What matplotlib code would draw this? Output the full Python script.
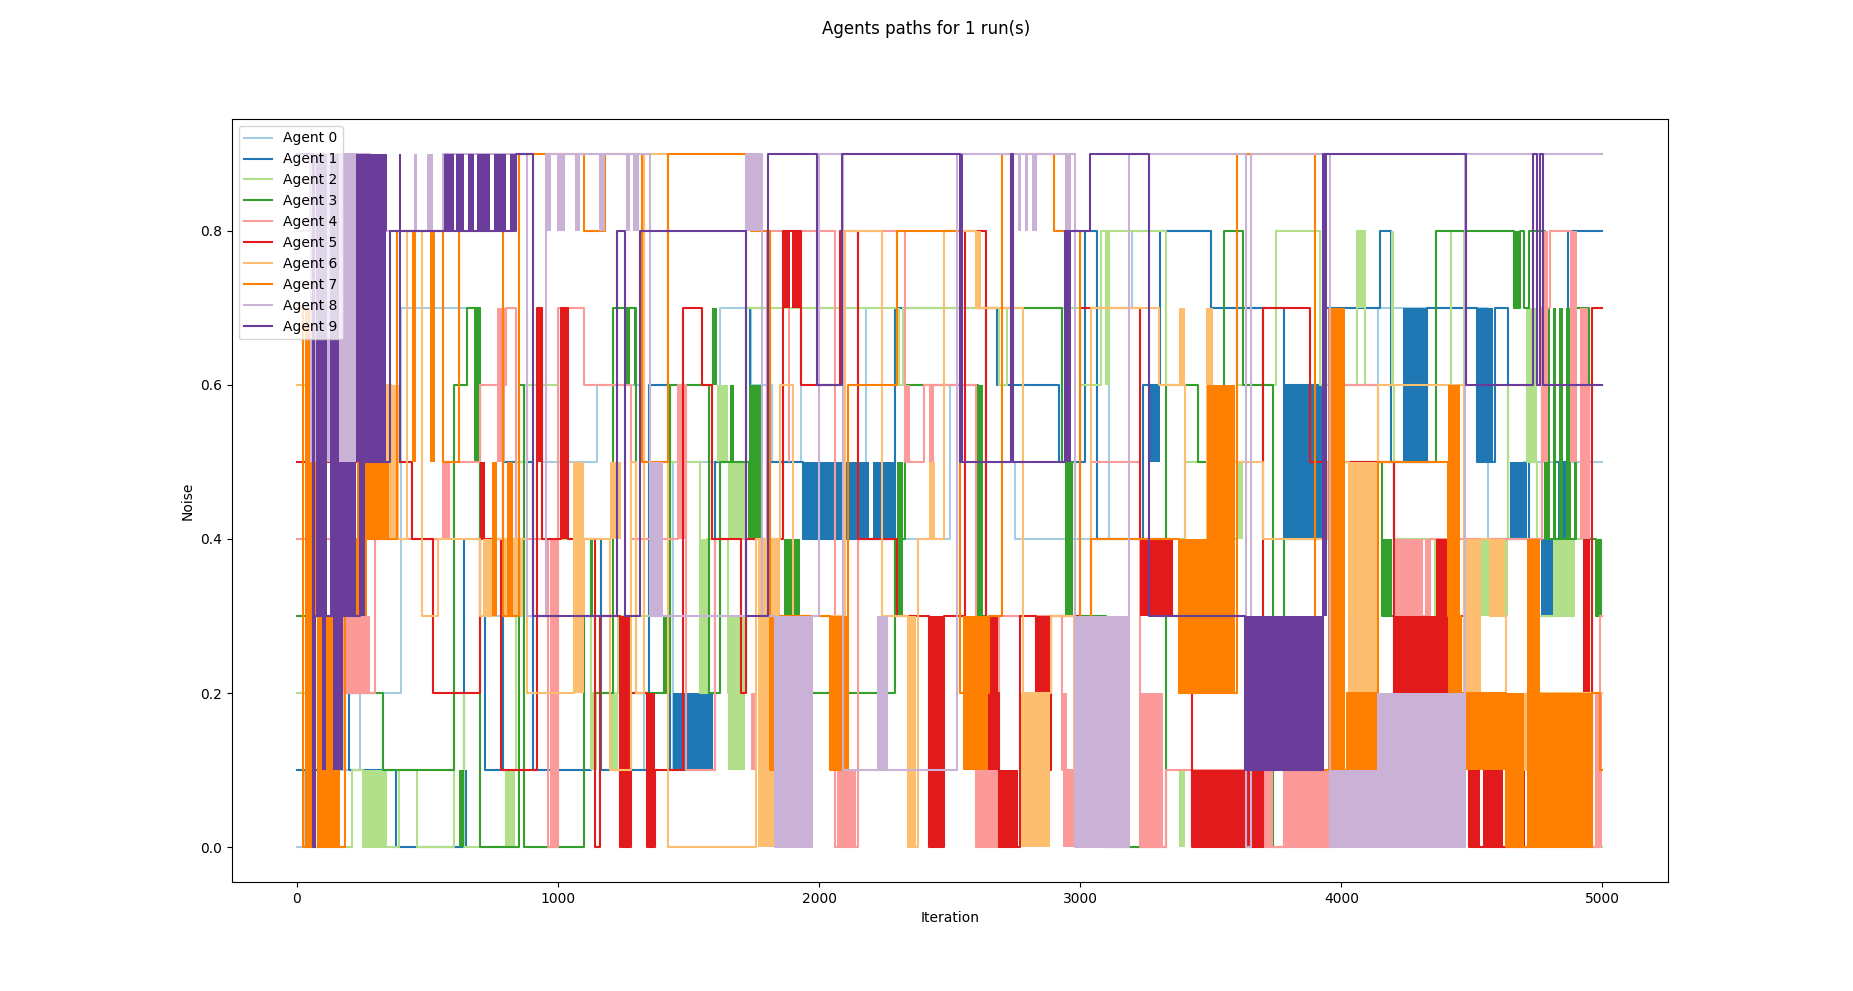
import matplotlib
matplotlib.use('Agg')
import matplotlib.pyplot as plt
import numpy as np

n_iter = 5000
agent_names = ['Agent %d' % i for i in range(10)]

# step paths: iteration where the value changes, and the new noise value
a0_x = [0, 30, 240, 400, 700, 870, 940, 1150, 1330, 1440, 1620, 1740, 1820, 1930, 2180, 2500, 2560,
        2750, 3110, 3200, 3500, 3700, 3930, 4020, 4140, 4330, 4560, 4700, 4960]
a0_y = [0.0, 0.1, 0.2, 0.7, 0.3, 0.6, 0.5, 0.6, 0.1, 0.5, 0.7, 0.6, 0.5, 0.7, 0.4, 0.6, 0.5,
        0.4, 0.7, 0.8, 0.7, 0.4, 0.6, 0.6, 0.7, 0.7, 0.4, 0.5, 0.5]
a0_bands = []

a1_x = [0, 90, 200, 380, 640, 720, 790, 905, 1125, 1165, 1350, 1430, 1600, 1735, 1800, 1940, 2290,
        2680, 2920, 3020, 3065, 3240, 3305, 3500, 3780, 3930, 4150, 4190, 4330, 4520, 4590, 4640,
        4720, 4770, 4820, 4870]
a1_y = [0.1, 0.2, 0.1, 0.0, 0.4, 0.1, 0.5, 0.1, 0.4, 0.1, 0.6, 0.1, 0.5, 0.7, 0.5, 0.4, 0.7,
        0.6, 0.5, 0.8, 0.4, 0.6, 0.8, 0.7, 0.6, 0.7, 0.8, 0.5, 0.7, 0.5, 0.7, 0.4,
        0.6, 0.3, 0.5, 0.8]
a1_bands = [(620, 650, 0.0, 0.1), (1440, 1595, 0.1, 0.2), (1940, 2190, 0.4, 0.5), (2205, 2290, 0.4, 0.5),
            (3258, 3305, 0.5, 0.6), (3778, 3931, 0.4, 0.6), (4237, 4327, 0.5, 0.7), (4521, 4582, 0.5, 0.7),
            (4646, 4710, 0.4, 0.5), (4768, 4812, 0.3, 0.4), (4830, 4865, 0.4, 0.5)]

a2_x = [0, 50, 210, 255, 390, 460, 600, 640, 800, 840, 880, 1000, 1125, 1230, 1420, 1545, 1570,
        1650, 1720, 2300, 2320, 2690, 2720, 3000, 3080, 3330, 3400, 3500, 3600, 3750, 3920, 4060,
        4090, 4200, 4360, 4420, 4470, 4530, 4640, 4710, 4750, 4890, 4960]
a2_y = [0.2, 0.0, 0.1, 0.0, 0.1, 0.0, 0.2, 0.0, 0.1, 0.5, 0.6, 0.4, 0.2, 0.3, 0.5, 0.2, 0.4,
        0.2, 0.7, 0.6, 0.7, 0.6, 0.7, 0.6, 0.8, 0.4, 0.5, 0.4, 0.6, 0.8, 0.6, 0.8,
        0.6, 0.4, 0.3, 0.8, 0.3, 0.4, 0.6, 0.5, 0.3, 0.4, 0.0]
a2_bands = [(255, 345, 0.0, 0.1), (165, 185, 0.1, 0.2), (797, 836, 0.0, 0.1), (1124, 1149, 0.1, 0.2),
            (1202, 1228, 0.1, 0.2), (1544, 1569, 0.2, 0.4), (1652, 1716, 0.1, 0.3), (1652, 1716, 0.4, 0.5),
            (1610, 1650, 0.5, 0.6), (2297, 2310, 0.6, 0.7), (3095, 3114, 0.6, 0.8), (3380, 3400, 0.0, 0.1),
            (3598, 3624, 0.4, 0.5), (4058, 4090, 0.7, 0.8), (4190, 4200, 0.6, 0.8), (4531, 4640, 0.3, 0.4),
            (4709, 4748, 0.5, 0.7), (4812, 4888, 0.3, 0.4)]

a3_x = [0, 200, 330, 600, 650, 700, 850, 870, 1100, 1140, 1210, 1300, 1430, 1580, 1620, 1730, 1790,
        1930, 2290, 2330, 2610, 2640, 2930, 2980, 3100, 3330, 3450, 3550, 3625, 3740, 3780, 3960,
        4155, 4200, 4364, 4662, 4685, 4700, 4720, 4780, 4900, 4950, 4975]
a3_y = [0.3, 0.2, 0.1, 0.6, 0.7, 0.0, 0.6, 0.0, 0.3, 0.2, 0.7, 0.2, 0.6, 0.2, 0.5, 0.4, 0.3,
        0.2, 0.4, 0.6, 0.3, 0.7, 0.5, 0.3, 0.0, 0.6, 0.5, 0.8, 0.6, 0.0, 0.4, 0.5,
        0.3, 0.5, 0.8, 0.7, 0.8, 0.7, 0.8, 0.4, 0.7, 0.4, 0.3]
a3_bands = [(620, 640, 0.0, 0.1), (680, 700, 0.5, 0.7), (1124, 1135, 0.3, 0.4), (1262, 1275, 0.6, 0.7),
            (1290, 1300, 0.6, 0.7), (1402, 1428, 0.2, 0.3), (1590, 1610, 0.6, 0.7), (1660, 1675, 0.5, 0.6),
            (1733, 1785, 0.4, 0.6), (1864, 1928, 0.3, 0.4), (2297, 2322, 0.3, 0.5), (2607, 2629, 0.3, 0.6),
            (2941, 2973, 0.3, 0.5), (4155, 4195, 0.3, 0.4), (4662, 4684, 0.7, 0.8), (4785, 4800, 0.4, 0.7),
            (4810, 4822, 0.4, 0.7), (4835, 4850, 0.4, 0.7), (4860, 4880, 0.4, 0.7), (4890, 4900, 0.4, 0.7),
            (4972, 5000, 0.3, 0.4)]

a4_x = [0, 180, 300, 560, 700, 800, 840, 960, 1000, 1100, 1280, 1460, 1490, 1600, 1800, 2060, 2150,
        2330, 2400, 2600, 2690, 2930, 3040, 3230, 3330, 3700, 3960, 4140, 4200, 4340, 4770, 4800,
        4880, 4950, 4990]
a4_y = [0.4, 0.2, 0.4, 0.5, 0.6, 0.7, 0.4, 0.0, 0.7, 0.6, 0.4, 0.6, 0.1, 0.4, 0.8, 0.0, 0.8,
        0.5, 0.6, 0.0, 0.3, 0.1, 0.5, 0.0, 0.1, 0.0, 0.6, 0.5, 0.3, 0.4, 0.7, 0.8,
        0.6, 0.0, 0.3]
a4_bands = [(165, 280, 0.2, 0.3), (561, 586, 0.4, 0.5), (765, 797, 0.5, 0.7), (970, 1002, 0.0, 0.4),
            (1461, 1487, 0.4, 0.6), (1740, 1760, 0.1, 0.2), (1880, 1890, 0.5, 0.7), (2067, 2143, 0.0, 0.1),
            (2330, 2350, 0.5, 0.6), (2420, 2440, 0.5, 0.6), (2603, 2686, 0.0, 0.1), (2930, 2950, 0.1, 0.2),
            (2935, 3037, 0.0, 0.1), (3228, 3318, 0.0, 0.2), (3701, 3739, 0.0, 0.1), (3778, 3956, 0.0, 0.1),
            (4199, 4314, 0.3, 0.4), (4320, 4345, 0.3, 0.4), (4774, 4793, 0.5, 0.8), (4876, 4901, 0.5, 0.8),
            (4914, 4946, 0.4, 0.7), (4970, 5000, 0.0, 0.2)]

a5_x = [0, 250, 320, 440, 520, 700, 780, 920, 940, 1010, 1040, 1140, 1160, 1236, 1280, 1340, 1370,
        1480, 1550, 1590, 1700, 1720, 1860, 1930, 2080, 2150, 2300, 2420, 2480, 2560, 2640, 2690,
        2770, 2830, 2890, 3000, 3230, 3350, 3430, 3700, 3880, 4200, 4410, 4490, 4720, 4760, 4930, 4960]
a5_y = [0.5, 0.4, 0.5, 0.4, 0.2, 0.4, 0.1, 0.7, 0.4, 0.7, 0.4, 0.0, 0.3, 0.0, 0.2, 0.0, 0.1,
        0.7, 0.6, 0.4, 0.2, 0.4, 0.8, 0.6, 0.8, 0.4, 0.3, 0.0, 0.3, 0.8, 0.2, 0.0,
        0.3, 0.1, 0.3, 0.7, 0.4, 0.3, 0.0, 0.7, 0.5, 0.1, 0.3, 0.0, 0.2, 0.1, 0.2, 0.7]
a5_bands = [(299, 318, 0.4, 0.5), (701, 720, 0.4, 0.5), (918, 937, 0.5, 0.7), (1013, 1033, 0.4, 0.7),
            (1236, 1274, 0.0, 0.3), (1338, 1370, 0.0, 0.2), (1864, 1889, 0.7, 0.8), (1896, 1928, 0.7, 0.8),
            (2420, 2482, 0.0, 0.3), (2648, 2686, 0.1, 0.3), (2686, 2763, 0.0, 0.1), (2833, 2884, 0.1, 0.3),
            (3228, 3356, 0.3, 0.4), (3433, 3701, 0.0, 0.1), (4199, 4409, 0.1, 0.3), (4364, 4409, 0.3, 0.4),
            (4490, 4531, 0.0, 0.1), (4541, 4620, 0.0, 0.1), (4630, 4703, 0.0, 0.1), (4710, 4751, 0.2, 0.4),
            (4927, 4951, 0.2, 0.4)]

a6_x = [0, 150, 250, 360, 420, 480, 540, 700, 760, 880, 1060, 1100, 1200, 1280, 1300, 1330, 1420,
        1760, 1850, 1900, 2100, 2240, 2340, 2380, 2480, 2600, 2780, 2890, 2980, 3040, 3300, 3400,
        3560, 3700, 3950, 4030, 4140, 4470, 4530, 4570, 4630, 4710]
a6_y = [0.6, 0.8, 0.6, 0.4, 0.8, 0.3, 0.4, 0.3, 0.4, 0.2, 0.3, 0.4, 0.1, 0.5, 0.2, 0.9, 0.0,
        0.4, 0.6, 0.3, 0.8, 0.3, 0.0, 0.4, 0.8, 0.7, 0.2, 0.3, 0.1, 0.7, 0.6, 0.3,
        0.5, 0.4, 0.5, 0.3, 0.6, 0.2, 0.4, 0.3, 0.1, 0.2]
a6_bands = [(333, 390, 0.4, 0.6), (714, 765, 0.3, 0.4), (790, 866, 0.3, 0.4), (1059, 1098, 0.2, 0.5),
            (1200, 1240, 0.4, 0.5), (1766, 1849, 0.0, 0.4), (2339, 2371, 0.0, 0.3), (2420, 2445, 0.4, 0.5),
            (2603, 2620, 0.7, 0.8), (2775, 2884, 0.0, 0.2), (2973, 3037, 0.1, 0.3), (3380, 3400, 0.6, 0.7),
            (3480, 3510, 0.3, 0.7), (4027, 4135, 0.2, 0.5), (4473, 4531, 0.2, 0.4), (4569, 4627, 0.3, 0.4),
            (4630, 4707, 0.1, 0.2)]

a7_x = [0, 24, 69, 82, 184, 230, 383, 560, 620, 790, 850, 1100, 1180, 1320, 1420, 1740, 1812,
        1850, 2040, 2112, 2300, 2540, 2650, 2700, 2900, 3000, 3040, 3380, 3600, 3900, 4020, 4140,
        4410, 4460, 4630, 4960, 4990]
a7_y = [0.7, 0.0, 0.6, 0.0, 0.3, 0.4, 0.8, 0.5, 0.8, 0.3, 0.9, 0.8, 0.9, 0.5, 0.9, 0.8, 0.1,
        0.3, 0.1, 0.6, 0.8, 0.2, 0.3, 0.9, 0.8, 0.2, 0.4, 0.2, 0.9, 0.1, 0.2, 0.5,
        0.3, 0.2, 0.0, 0.2, 0.1]
a7_bands = [(31, 69, 0.0, 0.7), (82, 165, 0.0, 0.3), (230, 352, 0.4, 0.5), (235, 270, 0.3, 0.4),
            (439, 458, 0.5, 0.8), (510, 529, 0.5, 0.8), (746, 765, 0.3, 0.5), (803, 829, 0.3, 0.5),
            (1812, 1849, 0.1, 0.3), (2042, 2112, 0.1, 0.3), (2551, 2648, 0.1, 0.3), (3382, 3523, 0.2, 0.4),
            (3486, 3594, 0.2, 0.6), (3950, 4014, 0.1, 0.7), (4027, 4135, 0.1, 0.2), (4409, 4454, 0.2, 0.6),
            (4473, 4627, 0.1, 0.2), (4630, 4700, 0.0, 0.2), (4710, 4760, 0.0, 0.4), (4760, 4960, 0.0, 0.2)]

a8_x = [0, 51, 281, 560, 880, 955, 1352, 1720, 1780, 1831, 1971, 2000, 2090, 2530, 2980, 3185, 3636,
        3655, 3956, 4474]
a8_y = [0.8, 0.9, 0.8, 0.9, 0.3, 0.9, 0.3, 0.9, 0.3, 0.0, 0.3, 0.9, 0.1, 0.9, 0.0, 0.9, 0.0,
        0.9, 0.0, 0.9]
a8_bands = [(51, 281, 0.5, 0.9), (255, 265, 0.8, 0.9), (450, 460, 0.8, 0.9), (497, 523, 0.8, 0.9),
            (957, 975, 0.8, 0.9), (995, 1027, 0.8, 0.9), (1064, 1084, 0.8, 0.9), (1158, 1180, 0.8, 0.9),
            (1261, 1276, 0.8, 0.9), (1286, 1312, 0.8, 0.9), (1352, 1402, 0.3, 0.5), (1720, 1777, 0.8, 0.9),
            (1831, 1971, 0.0, 0.3), (2220, 2265, 0.1, 0.3), (2763, 2775, 0.8, 0.9), (2790, 2800, 0.8, 0.9),
            (2815, 2834, 0.8, 0.9), (2942, 2965, 0.8, 0.9), (2980, 3185, 0.0, 0.3), (3956, 4473, 0.0, 0.1),
            (4135, 4473, 0.0, 0.2)]

a9_x = [0, 63, 70, 241, 356, 840, 905, 1225, 1257, 1314, 1720, 1805, 1993, 2086, 2539, 2734, 2743,
        2941, 3037, 3263, 3631, 3931, 4479, 4735, 4748, 4761, 4774]
a9_y = [0.9, 0.0, 0.3, 0.5, 0.8, 0.9, 0.3, 0.8, 0.3, 0.8, 0.3, 0.9, 0.6, 0.9, 0.5, 0.9, 0.5,
        0.8, 0.9, 0.3, 0.1, 0.9, 0.6, 0.9, 0.6, 0.9, 0.6]
a9_bands = [(63, 70, 0.0, 0.9), (75, 115, 0.3, 0.9), (125, 160, 0.3, 0.9), (160, 225, 0.3, 0.5),
            (225, 340, 0.5, 0.9), (240, 262, 0.3, 0.5), (95, 110, 0.1, 0.3), (140, 175, 0.1, 0.3),
            (262, 300, 0.8, 0.9), (310, 345, 0.8, 0.9), (390, 400, 0.5, 0.9), (563, 600, 0.8, 0.9),
            (610, 640, 0.8, 0.9), (655, 680, 0.8, 0.9), (690, 740, 0.8, 0.9), (755, 800, 0.8, 0.9),
            (815, 840, 0.8, 0.9), (2539, 2552, 0.5, 0.9), (2734, 2743, 0.5, 0.9), (2941, 2966, 0.5, 0.8),
            (3631, 3931, 0.1, 0.3), (3931, 3945, 0.3, 0.9)]

paths_x = [a0_x, a1_x, a2_x, a3_x, a4_x, a5_x, a6_x, a7_x, a8_x, a9_x]
paths_y = [a0_y, a1_y, a2_y, a3_y, a4_y, a5_y, a6_y, a7_y, a8_y, a9_y]
bands = [a0_bands, a1_bands, a2_bands, a3_bands, a4_bands, a5_bands, a6_bands, a7_bands, a8_bands, a9_bands]

colors = plt.get_cmap('Paired').colors

fig = plt.figure(figsize=(18.53, 9.91), dpi=100)
ax = fig.add_subplot(111)

for i in range(10):
    x = np.append(paths_x[i], n_iter)
    y = np.append(paths_y[i], paths_y[i][-1])
    z = 2 + i * 0.01
    ax.plot(x, y, drawstyle='steps-post', color=colors[i], lw=1.5, label=agent_names[i], zorder=z)
    # dense back-and-forth switching shows up as solid blocks
    for (s, e, lo, hi) in bands[i]:
        ax.fill_between([s, e], lo, hi, color=colors[i], lw=0, zorder=z)

ax.set_xlabel('Iteration')
ax.set_ylabel('Noise')
ax.legend(loc='upper left')
fig.suptitle('Agents paths for 1 run(s)')

fig.savefig('out.png', dpi=100)
